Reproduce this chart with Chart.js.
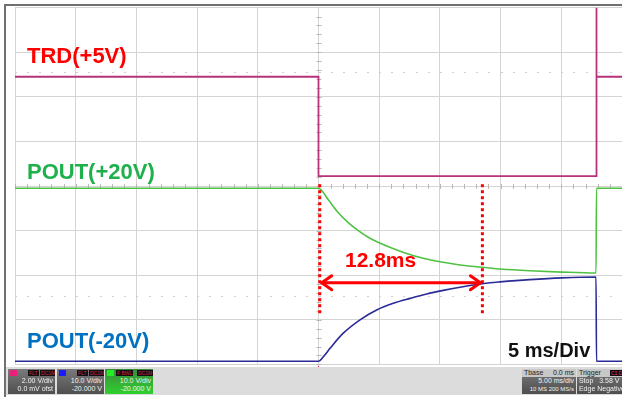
<!DOCTYPE html>
<html>
<head>
<meta charset="utf-8">
<script src="https://cdn.jsdelivr.net/npm/chart.js@4/dist/chart.umd.min.js"></script>
<style>
  html, body { margin: 0; padding: 0; background: #fff; }
  #wrap { position: relative; width: 622px; height: 397px; overflow: hidden; font-family: "Liberation Sans", Arial, sans-serif; }
  #scope { position: absolute; left: 0; top: 0; }
  #frame { position: absolute; left: 4px; top: 4px; width: 630px; height: 391px; border-left: 2px solid #707070; border-top: 2px solid #707070; border-bottom: 2px solid #505050; pointer-events: none; }
  .lbl { position: absolute; font-weight: bold; line-height: 1; white-space: nowrap; }
  #bar { position: absolute; left: 6px; top: 367px; width: 620px; height: 28px; background: #dcdcdc; }
  .box { position: absolute; top: 2px; height: 25px; background: linear-gradient(#7a7a7a, #4e4e4e); color: #f2f2f2; font-size: 7px; line-height: 8px; white-space: nowrap; overflow: hidden; }
  .box .r { text-align: right; padding-right: 2px; }
  .box .h { height: 8px; position: relative; }
  .sq { position: absolute; left: 2px; top: 1px; width: 7px; height: 6px; }
  .tag { position: absolute; top: 1px; height: 6px; background: #111; color: #d02040; font-size: 5px; line-height: 6px; padding: 0 1px; }
</style>
</head>
<body>
<div id="wrap">
  <canvas id="scope" width="622" height="397"></canvas>
  <div id="frame"></div>

  <div class="lbl" style="left:27px; top:45px; font-size:22px; color:#ff0000;">TRD(+5V)</div>
  <div class="lbl" style="left:27px; top:161px; font-size:22px; color:#1db04b;">POUT(+20V)</div>
  <div class="lbl" style="left:27px; top:330px; font-size:22px; color:#0070c0;">POUT(-20V)</div>
  <div class="lbl" style="left:345px; top:249px; font-size:21px; color:#ff0000;">12.8ms</div>
  <div class="lbl" style="left:508px; top:340px; font-size:20px; color:#111;">5 ms/Div</div>

  <div id="bar">
    <div class="box" style="left:2px; width:47px;">
      <div class="h"><span class="sq" style="background:#e8207a;"></span><span class="tag" style="left:20px;">FLT</span><span class="tag" style="left:32px;">DC1M</span></div>
      <div class="r">2.00 V/div</div>
      <div class="r">0.0 mV ofst</div>
    </div>
    <div class="box" style="left:51px; width:47px;">
      <div class="h"><span class="sq" style="background:#1a1aff;"></span><span class="tag" style="left:20px;">FLT</span><span class="tag" style="left:32px;">DC1M</span></div>
      <div class="r">10.0 V/div</div>
      <div class="r">-20.000 V</div>
    </div>
    <div class="box" style="left:99px; width:48px; background:linear-gradient(#3a8a3a, #2fd02f);">
      <div class="h"><span class="sq" style="background:#22ee22;"></span><span class="tag" style="left:11px;">F BWL</span><span class="tag" style="left:32px;">DC1M</span></div>
      <div class="r">10.0 V/div</div>
      <div class="r">-20.000 V</div>
    </div>
    <div class="box" style="left:516px; width:54px;">
      <div class="h" style="background:#c8c8c8; color:#222;">&nbsp;Tbase<span style="position:absolute; right:2px;">0.0 ms</span></div>
      <div class="r">5.00 ms/div</div>
      <div class="r" style="font-size:6px;">10 MS 200 MS/s</div>
    </div>
    <div class="box" style="left:571px; width:51px;">
      <div class="h" style="background:#c8c8c8; color:#222;">&nbsp;Trigger<span class="tag" style="left:33px; color:#e8207a;">C1 DC</span></div>
      <div>&nbsp;Stop&nbsp;&nbsp;&nbsp;3.58 V</div>
      <div>&nbsp;Edge&nbsp;Negative</div>
    </div>
  </div>
</div>

<script>
// time in ms (0 = trigger, screen centre), level in divisions from centre line
const trdTime = [-25, 0, 0, 22.9, 22.9, 22.9, 25];
const trdDiv  = [2.45, 2.45, 0.22, 0.22, 4.0, 2.45, 2.45];

const poutPosTime = [-25, 0, 0.81, 1.63, 2.45, 3.28, 4.1, 4.9, 6.03, 7.13, 8.63, 10.28, 11.65, 13.03, 14.13, 14.95, 17.4, 20.03, 22.86, 22.9, 25];
const poutPosDiv  = [-0.05, -0.05, -0.31, -0.6, -0.82, -1.0, -1.15, -1.26, -1.39, -1.5, -1.62, -1.71, -1.77, -1.81, -1.84, -1.86, -1.9, -1.93, -1.95, -0.05, -0.05];

const poutNegTime = [-25, 0, 0.4, 0.95, 2.04, 3.42, 4.79, 6.16, 7.54, 8.91, 10.28, 11.66, 13.03, 14.13, 14.95, 17.4, 20.03, 22.86, 22.9, 25];
const poutNegDiv  = [-3.93, -3.93, -3.83, -3.64, -3.3, -3.0, -2.78, -2.63, -2.52, -2.42, -2.34, -2.27, -2.21, -2.17, -2.15, -2.1, -2.06, -2.04, -3.93, -3.93];

// cursor annotation (ms / divisions)
const cursorMs = [0.1, 13.5];
const cursorTop = 0.04;
const cursorBottom = -2.92;
const arrowDiv = -2.17;

function pts(xs, ys) {
  return xs.map((t, i) => ({ x: t, y: ys[i] }));
}

const scopeMarks = {
  id: 'scopeMarks',
  beforeDatasetsDraw(chart) {
    const { ctx, chartArea, scales: { x, y } } = chart;
    const cx = x.getPixelForValue(0);
    const cy = y.getPixelForValue(0);
    ctx.save();
    ctx.strokeStyle = '#b8b8b8';
    ctx.lineWidth = 1;
    // minor ticks along the centre lines
    for (let t = -25; t <= 25; t += 1) {
      const px = Math.round(x.getPixelForValue(t)) + 0.5;
      ctx.beginPath(); ctx.moveTo(px, cy - 2); ctx.lineTo(px, cy + 3); ctx.stroke();
    }
    for (let v = -4; v <= 4; v += 0.2) {
      const py = Math.round(y.getPixelForValue(v)) + 0.5;
      ctx.beginPath(); ctx.moveTo(cx - 2, py); ctx.lineTo(cx + 3, py); ctx.stroke();
    }
    // faint dotted rows
    ctx.fillStyle = '#cfcfcf';
    [2.56, -2.47].forEach(v => {
      const py = Math.round(y.getPixelForValue(v));
      for (let t = -25; t <= 25; t += 1) {
        ctx.fillRect(Math.round(x.getPixelForValue(t)), py, 2, 1);
      }
    });
    ctx.restore();
  },
  afterDatasetsDraw(chart) {
    const { ctx, chartArea, scales: { x, y } } = chart;
    ctx.save();
    ctx.strokeStyle = '#ff0000';
    ctx.lineWidth = 3;
    ctx.setLineDash([3, 3]);
    cursorMs.forEach(t => {
      const px = x.getPixelForValue(t);
      ctx.beginPath();
      ctx.moveTo(px, y.getPixelForValue(cursorTop));
      ctx.lineTo(px, y.getPixelForValue(cursorBottom));
      ctx.stroke();
    });
    ctx.setLineDash([]);
    const ay = y.getPixelForValue(arrowDiv);
    const x0 = x.getPixelForValue(cursorMs[0]) + 2;
    const x1 = x.getPixelForValue(cursorMs[1]) - 2;
    ctx.lineCap = 'round';
    ctx.beginPath(); ctx.moveTo(x0, ay); ctx.lineTo(x1, ay); ctx.stroke();
    ctx.beginPath(); ctx.moveTo(x0 + 10, ay - 7); ctx.lineTo(x0, ay); ctx.lineTo(x0 + 10, ay + 7); ctx.stroke();
    ctx.beginPath(); ctx.moveTo(x1 - 10, ay - 7); ctx.lineTo(x1, ay); ctx.lineTo(x1 - 10, ay + 7); ctx.stroke();
    // trigger position marker
    const tx = x.getPixelForValue(0);
    ctx.fillStyle = '#e8207a';
    ctx.beginPath();
    ctx.moveTo(tx, chartArea.bottom + 1);
    ctx.lineTo(tx - 3, chartArea.bottom + 6);
    ctx.lineTo(tx + 3, chartArea.bottom + 6);
    ctx.closePath();
    ctx.fill();
    ctx.restore();
  }
};

const config = {
  type: 'scatter',
  data: {
    datasets: [
      { label: 'TRD(+5V)', data: pts(trdTime, trdDiv), showLine: true, borderColor: '#b8327a', borderWidth: 1.8, pointRadius: 0, tension: 0 },
      { label: 'POUT(+20V)', data: pts(poutPosTime, poutPosDiv), showLine: true, borderColor: '#4fc244', borderWidth: 1.6, pointRadius: 0, cubicInterpolationMode: 'monotone' },
      { label: 'POUT(-20V)', data: pts(poutNegTime, poutNegDiv), showLine: true, borderColor: '#2a2a98', borderWidth: 1.6, pointRadius: 0, cubicInterpolationMode: 'monotone' }
    ]
  },
  options: {
    responsive: false,
    animation: false,
    layout: { padding: { left: 15, top: 7.6, right: 0, bottom: 32.6 } },
    plugins: { legend: { display: false }, tooltip: { enabled: false } },
    scales: {
      x: {
        type: 'linear', min: -25, max: 25,
        ticks: { display: false, stepSize: 5 },
        grid: { color: '#d4d4d4', lineWidth: 1, drawTicks: false },
        border: { display: false }
      },
      y: {
        min: -4, max: 4,
        ticks: { display: false, stepSize: 1 },
        grid: { color: '#d4d4d4', lineWidth: 1, drawTicks: false },
        border: { display: false }
      }
    }
  },
  plugins: [scopeMarks]
};

new Chart(document.getElementById('scope'), config);
</script>
</body>
</html>
